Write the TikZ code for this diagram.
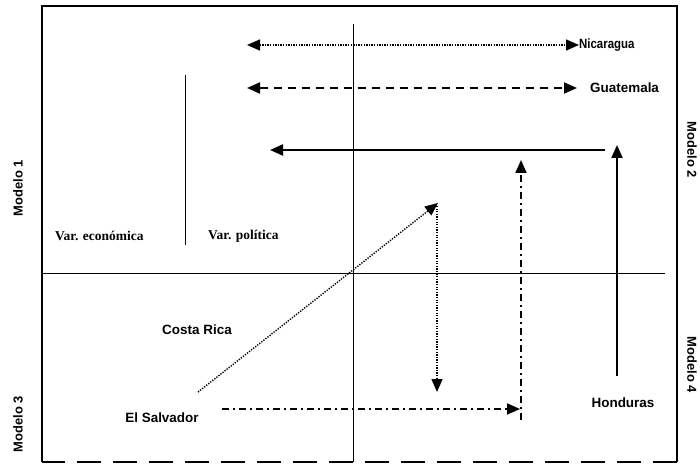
\documentclass[tikz,border=0pt]{standalone}
\usepackage{fontspec}
\setmainfont{Liberation Serif}
\newfontfamily\lblfont{Liberation Sans}
\usetikzlibrary{arrows.meta}
\begin{document}
\begin{tikzpicture}[x=1bp,y=-1bp,
  tip/.style={-{Triangle[length=13bp,width=11bp]}},
  tipboth/.style={{Triangle[length=13bp,width=11bp]}-{Triangle[length=13bp,width=11bp]}},
  frameline/.style={line width=1.1bp},
  axisline/.style={line width=1bp},
  dotline/.style={line width=1.4bp,dash pattern=on 1.3bp off 1.3bp},
  dashline/.style={line width=2bp,dash pattern=on 8bp off 6bp},
  solidarrow/.style={line width=2bp},
  dashdot/.style={line width=2bp,dash pattern=on 7bp off 4bp on 2bp off 4bp},
  country/.style={font=\lblfont\bfseries\fontsize{13.5}{15}\selectfont, inner sep=0pt},
  model/.style={font=\lblfont\bfseries\fontsize{13}{15}\selectfont, inner sep=0pt},
  varlabel/.style={font=\bfseries\fontsize{13.5}{15}\selectfont, inner sep=0pt}
]
\useasboundingbox (0,0) rectangle (700,466);
% frame
\coordinate (f1) at (42,462);
\coordinate (f2) at (42,6);
\coordinate (f3) at (677,6);
\coordinate (f4) at (677,462);
\draw[frameline] (f1) -- (f2) -- (f3) -- (f4);
\draw[line width=1.6bp,dash pattern=on 24bp off 12bp] (f4) -- (f1);
% axes
\coordinate (hL) at (42,274);
\coordinate (hR) at (665,274);
\draw[axisline] (hL) -- (hR);
\coordinate (vT) at (353,24);
\coordinate (vB) at (353,462);
\draw[axisline] (vT) -- (vB);
\coordinate (sT) at (185,75);
\coordinate (sB) at (185,245);
\draw[line width=0.9bp] (sT) -- (sB);
% labels
\node[country, anchor=west, xscale=0.85] (nic) at (579,45) {Nicaragua};
\node[country, anchor=west] (gua) at (590,88) {Guatemala};
\node[varlabel, anchor=west] (eco) at (55,236) {Var. económica};
\node[varlabel, anchor=west] (pol) at (208,236) {Var. política};
\node[country] (cr) at (197,330) {Costa Rica};
\node[country] (es) at (162,418) {El Salvador};
\node[country] (hon) at (623,403) {Honduras};
\node[model, rotate=90] (m1) at (18,188) {Modelo 1};
\node[model, rotate=90] (m3) at (18,424) {Modelo 3};
\node[model, rotate=-90] (m2) at (692,150) {Modelo 2};
\node[model, rotate=-90] (m4) at (692,365) {Modelo 4};
% Nicaragua arrow
\coordinate (nA) at (247,45);
\draw[dotline, tipboth] (nA) -- (nic.west);
% Guatemala arrow
\coordinate (gA) at (247,88);
\coordinate (gB) at (577,88);
\draw[dashline, tipboth] (gA) -- (gB);
% solid horizontal
\coordinate (hA) at (605,150);
\coordinate (hB) at (270,150);
\draw[solidarrow, tip] (hA) -- (hB);
% Honduras vertical
\coordinate (honA) at (617,376);
\coordinate (honB) at (617,145);
\draw[solidarrow, tip] (honA) -- (honB);
% dash-dot
\coordinate (ddA) at (521,420);
\coordinate (ddB) at (521,160);
\draw[dashdot, tip] (ddA) -- (ddB);
\coordinate (dhA) at (222,409);
\coordinate (dhB) at (520,409);
\draw[dashdot, tip] (dhA) -- (dhB);
% dotted diagonal and vertical
\coordinate (dgA) at (198,392);
\coordinate (dgB) at (438,203);
\draw[dotline, tip] (dgA) -- (dgB);
\coordinate (dvA) at (437,206);
\coordinate (dvB) at (437,392);
\draw[dotline, tip] (dvA) -- (dvB);
\end{tikzpicture}
\end{document}
